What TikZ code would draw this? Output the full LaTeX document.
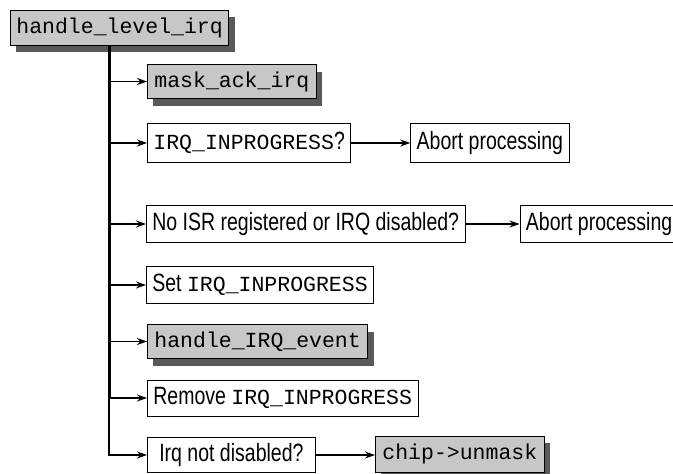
\documentclass[tikz,border=0pt]{standalone}
\usepackage{fontspec}
\setsansfont{Liberation Sans}[FakeStretch=0.78]
\setmonofont{Liberation Mono}
\renewcommand{\familydefault}{\sfdefault}
\usetikzlibrary{arrows.meta,positioning,shadows}

\newcommand{\cname}[1]{{\fontsize{21.5}{24}\selectfont\ttfamily #1}}

\begin{document}
\begin{tikzpicture}[
    x=1pt, y=-1pt,
    node distance=59pt,
    box/.style={rectangle, draw, line width=0.8pt, anchor=west, minimum height=37pt, inner xsep=6pt, fill=white, font=\fontsize{25}{28}\selectfont},
    func/.style={box, minimum height=34pt, inner xsep=7pt, fill=black!22, font=\fontsize{21.5}{24}\selectfont\ttfamily, drop shadow={shadow xshift=6pt, shadow yshift=-7pt, fill=black!65, opacity=1}},
    arrow/.style={-{Stealth[length=10pt, width=7pt]}, line width=1.3pt},
    trunk/.style={line width=3pt}
]
    \useasboundingbox (0,0) rectangle (673,474);

    % Caller and its steps
    \node[func, inner xsep=6pt, minimum height=35pt] (level) at (10,27.5) {handle\_level\_irq};
    \coordinate (trunktop) at (109,45);
    \node[func] (mask) at (147,81.5) {mask\_ack\_irq};
    \node[box, minimum height=39pt] (inprog) at (147,143) {\cname{IRQ\_INPROGRESS}?};
    \node[box, right=of inprog, minimum height=39pt] (abortone) {Abort processing};
    \node[box] (noisr) at (146,224) {No ISR registered or IRQ disabled?};
    \node[box, right=54pt of noisr] (aborttwo) {Abort processing};
    \node[box] (setflag) at (146,285) {Set \cname{IRQ\_INPROGRESS}};
    \node[func] (event) at (147,341.5) {handle\_IRQ\_event};
    \node[box, minimum height=36pt] (remove) at (147,398) {Remove \cname{IRQ\_INPROGRESS}};
    \node[box, minimum height=35pt, minimum width=168pt] (notdis) at (147,455) {Irq not disabled?};
    \node[func, minimum height=36pt] (unmask) at (375,454) {chip->unmask};

    % Trunk
    \draw[trunk] (trunktop) -- (trunktop |- remove.west);
    \draw[arrow] (trunktop |- remove.west) |- (notdis.west);

    % Branches
    \draw[arrow] (trunktop |- mask.west) -- (mask.west);
    \draw[arrow] (trunktop |- inprog.west) -- (inprog.west);
    \draw[arrow] (trunktop |- noisr.west) -- (noisr.west);
    \draw[arrow] (trunktop |- setflag.west) -- (setflag.west);
    \draw[arrow] (trunktop |- event.west) -- (event.west);
    \draw[arrow] (trunktop |- remove.west) -- (remove.west);
    \draw[arrow] (inprog) -- (abortone);
    \draw[arrow] (noisr) -- (aborttwo);
    \draw[arrow] (notdis) -- (notdis -| unmask.west);
\end{tikzpicture}
\end{document}
